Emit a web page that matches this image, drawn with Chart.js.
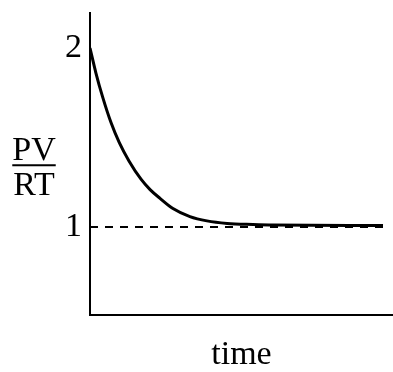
<!DOCTYPE html>
<html>
<head>
<meta charset="utf-8">
<style>
  html, body { margin: 0; padding: 0; background: #fff; }
  #wrap { width: 393px; height: 372px; position: relative; }
</style>
<script src="https://cdn.jsdelivr.net/npm/chart.js@4.4.1/dist/chart.umd.min.js"></script>
</head>
<body>
<div id="wrap"><canvas id="c"></canvas></div>
<script>
// Compressibility factor PV/RT of a gas relaxing toward ideal behaviour
const times = [0, 0.2, 0.43, 0.72, 1.0, 1.33, 1.74, 2.05, 2.39, 2.83, 3.41, 3.99, 4.68, 5.56, 6.25, 10];
const ratio = [2.00, 1.862, 1.727, 1.582, 1.471, 1.369, 1.267, 1.209, 1.160, 1.103, 1.058, 1.034, 1.020, 1.014, 1.011, 1.008];

// Ideal-gas reference level
const idealTimes = [0, 10];
const idealRatio = [1, 1];

// Axis labelling
const yTicks = [1, 2];
const yNumerator = 'PV';
const yDenominator = 'RT';
const xTitle = 'time';

const SERIF = '"Liberation Serif", "Times New Roman", serif';
const FONT_SIZE = 34;

const toPoints = (xs, ys) => xs.map((x, i) => ({ x: x, y: ys[i] }));

// Draws the y-axis quantity as a stacked fraction left of the axis
const fractionTitle = {
  id: 'fractionTitle',
  afterDraw(chart) {
    const ctx = chart.ctx;
    const yScale = chart.scales.y;
    const cx = chart.chartArea.left - 56;
    const barY = yScale.getPixelForValue(1.345);
    ctx.save();
    ctx.font = FONT_SIZE + 'px ' + SERIF;
    ctx.fillStyle = '#000';
    ctx.textAlign = 'center';
    ctx.textBaseline = 'alphabetic';
    ctx.fillText(yNumerator, cx, barY - 5);
    ctx.fillText(yDenominator, cx, barY + 30);
    const w = Math.max(ctx.measureText(yNumerator).width, ctx.measureText(yDenominator).width);
    ctx.fillRect(cx - w / 2, barY - 1, w, 2);
    ctx.restore();
  }
};

new Chart(document.getElementById('c'), {
  type: 'line',
  data: {
    datasets: [
      {
        data: toPoints(idealTimes, idealRatio),
        borderColor: '#000',
        borderWidth: 2,
        borderDash: [8, 7],
        pointRadius: 0,
        fill: false
      },
      {
        data: toPoints(times, ratio),
        borderColor: '#000',
        borderWidth: 3,
        pointRadius: 0,
        cubicInterpolationMode: 'monotone',
        fill: false
      }
    ]
  },
  options: {
    responsive: true,
    maintainAspectRatio: false,
    animation: false,
    devicePixelRatio: 1,
    layout: { padding: { top: 13, right: 0, bottom: 0, left: 0 } },
    plugins: {
      legend: { display: false },
      tooltip: { enabled: false }
    },
    scales: {
      x: {
        type: 'linear',
        min: 0,
        max: 10.34,
        grid: { display: false, drawTicks: false },
        border: { display: true, color: '#000', width: 2 },
        ticks: { display: false },
        title: {
          display: true,
          text: xTitle,
          color: '#000',
          font: { family: SERIF, size: FONT_SIZE, lineHeight: 1.0 },
          padding: { top: 0, bottom: 0 }
        },
        afterFit(scale) {
          scale.height = 57;
          scale.paddingLeft = 0;
          scale.paddingRight = 0;
        }
      },
      y: {
        type: 'linear',
        min: 0.508,
        max: 2.196,
        grid: { display: false, drawTicks: false },
        border: { display: true, color: '#000', width: 2 },
        afterBuildTicks(scale) { scale.ticks = yTicks.map(v => ({ value: v })); },
        ticks: {
          color: '#000',
          padding: 8,
          font: { family: SERIF, size: FONT_SIZE },
          callback: v => String(v)
        },
        afterFit(scale) {
          scale.width = 90;
          scale.paddingTop = 0;
          scale.paddingBottom = 0;
        }
      }
    }
  },
  plugins: [fractionTitle]
});
</script>
</body>
</html>
